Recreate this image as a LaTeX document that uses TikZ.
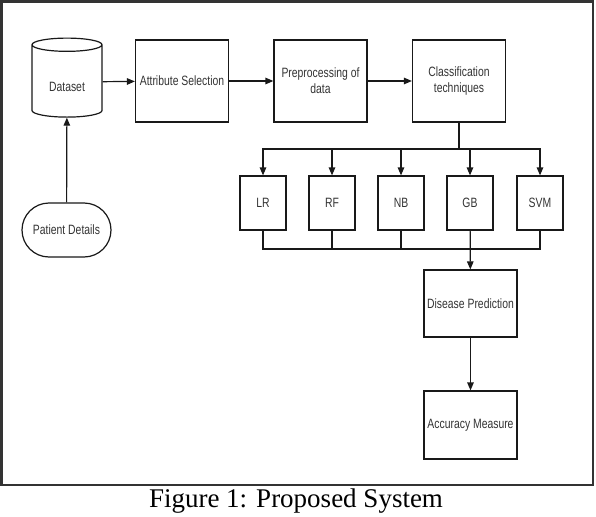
\documentclass[tikz,border=0pt]{standalone}
\usepackage{fontspec}
\setmainfont{Liberation Serif}
\setsansfont{Liberation Sans}
\newfontfamily\boxfont[FakeStretch=0.77]{Liberation Sans}
\usetikzlibrary{shapes.geometric,shapes.misc,arrows.meta}

\tikzset{
  blk/.style={draw=black!90, line width=1.2pt, minimum width=93pt,
    minimum height=82pt, inner sep=1pt, align=center, text=black!80,
    font=\boxfont\fontsize{13.5}{16}\selectfont},
  algo/.style={blk, minimum width=46pt, minimum height=54pt},
  cyl/.style={blk, cylinder, shape border rotate=90, aspect=0.35,
    minimum width=70pt, minimum height=79pt},
  pill/.style={blk, rounded rectangle, minimum width=91pt, minimum height=54pt},
  ln/.style={draw=black!90, line width=1.2pt},
}

\begin{document}
\begin{tikzpicture}[x=1pt,y=-1pt,>={Triangle[length=8pt,width=6.5pt]}]
	\useasboundingbox (0,0) rectangle (596,516);
	\draw[black!80, line width=2.6pt] (1.5,1.5) rectangle (593,485);

	\node[cyl, text height=19pt, text depth=0pt] (data) at (67,82) {Dataset};
	\node[blk] (attr) at (182,81) {Attribute Selection};
	\node[blk] (prep) at (320.5,81) {Preprocessing of\\data};
	\node[blk] (cls) at (459,81) {Classification\\techniques};
	\node[pill] (pat) at (66.5,230) {Patient Details};

	\node[algo] (lr) at (263,203) {LR};
	\node[algo] (rf) at (332,203) {RF};
	\node[algo] (nb) at (401,203) {NB};
	\node[algo] (gb) at (470,203) {GB};
	\node[algo] (svm) at (540,203) {SVM};

	\node[blk, minimum height=67pt] (dis) at (470.5,303.5) {Disease Prediction};
	\node[blk, minimum height=68pt] (acc) at (470.5,425) {Accuracy Measure};

	\coordinate (split) at (459,149);
	\coordinate (mrg) at (470,249);

	\draw[ln,->] (data) -- (attr);
	\draw[ln,->] (attr) -- (prep);
	\draw[ln,->] (prep) -- (cls);
	\draw[ln,->] (pat) -- (data);

	\draw[ln] (cls) -- (split);
	\foreach \m in {lr,rf,nb,gb,svm}
		\draw[ln,->] (split) -| (\m);
	\foreach \m in {lr,rf,nb,svm}
		\draw[ln] (\m) |- (mrg);
	\draw[ln,->] (gb) -- (dis);
	\draw[ln,->] (dis) -- (acc);

	\node[font=\fontsize{27}{30}\selectfont] (cap) at (296,501) {Figure 1: Proposed System};
\end{tikzpicture}
\end{document}
